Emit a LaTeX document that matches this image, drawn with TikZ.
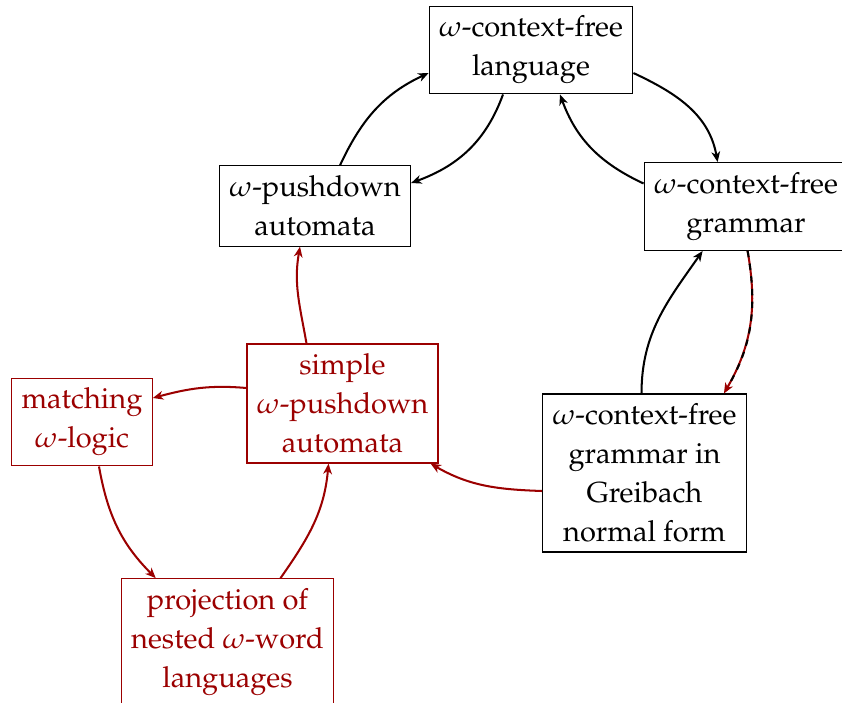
\documentclass[tikz,border=0pt]{standalone}
\usepackage[T1]{fontenc}
\usepackage{mathpazo}
\usetikzlibrary{arrows.meta,calc}
\definecolor{dred}{RGB}{155,0,0}
\begin{document}
\begin{tikzpicture}[x=0.3448pt,y=0.3448pt,
  box/.style={draw, align=center, font=\fontsize{10}{13.4}\selectfont, inner sep=3.4pt, line width=0.4pt},
  rbox/.style={box, draw=dred, text=dred},
  arr/.style={-{Stealth[length=3.6pt,width=3pt,inset=1.1pt]}, line width=0.7pt},
  rarr/.style={arr, draw=dred},
  dashover/.style={line width=0.7pt, draw=black, dash pattern=on 2.2pt off 2.2pt, shorten >=3.5pt}]
\useasboundingbox (0,0) rectangle (842,-702);
\node[box] (L) at (531,-50) {$\omega$-context-free\\language};
\node[box] (pda) at (315,-206) {$\omega$-pushdown\\automata};
\node[box] (G) at (746,-206.5) {$\omega$-context-free\\grammar};
\node[rbox] (simple) at (342.5,-403.5) {simple\\$\omega$-pushdown\\automata};
\node[rbox] (match) at (82,-422) {matching\\$\omega$-logic};
\node[box] (gnf) at (644.5,-473) {$\omega$-context-free\\grammar in\\Greibach\\normal form};
\node[rbox] (proj) at (227.5,-642) {projection of\\nested $\omega$-word\\languages};
\draw[arr] ($(pda.north)+(25,0)$) to[out=65,in=205] ($(L.west)+(0,-23)$);
\draw[arr] ($(L.south)+(-28,0)$) to[out=250,in=20] ($(pda.east)+(0,23)$);
\draw[arr] ($(L.east)+(0,-23)$) to[out=-25,in=100] ($(G.north west)+(74,0)$);
\draw[arr] ($(G.west)+(0,23)$) to[out=155,in=-70] ($(L.south)+(29,0)$);
\draw[arr] ($(gnf.north)+(-3,0)$) to[out=90,in=235] ($(G.south west)+(59,0)$);
\draw[rarr] ($(G.south west)+(104,0)$) to[out=-80,in=60] ($(gnf.north east)+(-23,0)$);
\draw[dashover] ($(G.south west)+(104,0)$) to[out=-80,in=60] ($(gnf.north east)+(-23,0)$);
\draw[rarr] ($(gnf.west)+(0,-18)$) to[out=178,in=-30] ($(simple.south east)+(-8,0)$);
\draw[rarr] ($(simple.north)+(-36,0)$) to[out=100,in=260] ($(pda.south)+(-15,0)$);
\draw[rarr] ($(simple.west)+(0,15.5)$) to[out=175,in=15] ($(match.east)+(0,24)$);
\draw[rarr] ($(match.south)+(17,0)$) to[out=-80,in=135] ($(proj.north west)+(35,0)$);
\draw[rarr] ($(proj.north)+(53,0)$) to[out=55,in=265] ($(simple.south)+(-14,0)$);
\end{tikzpicture}
\end{document}
